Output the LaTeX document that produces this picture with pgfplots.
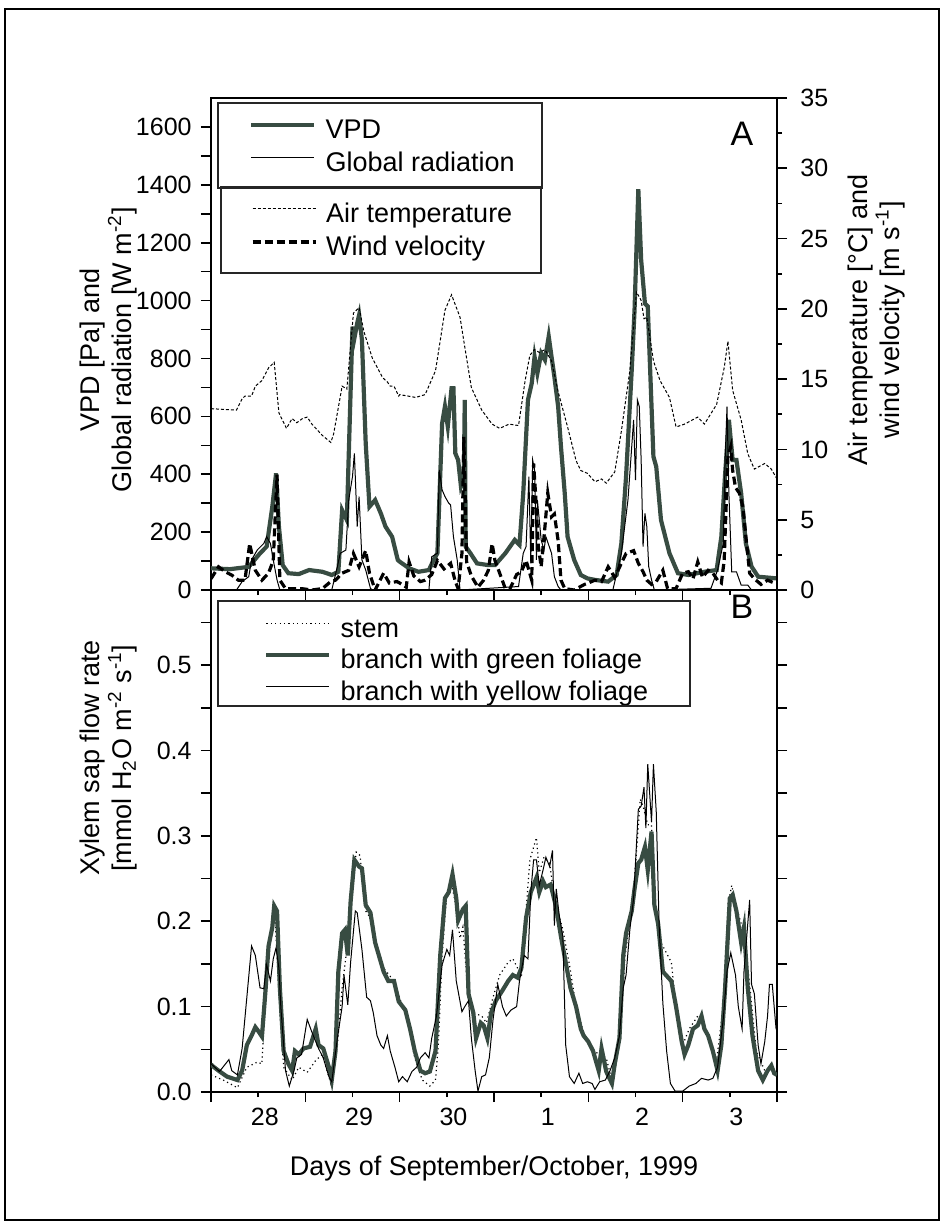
\documentclass[border=0pt]{standalone}
\usepackage{pgfplots}
\pgfplotsset{compat=1.18}
\usepackage{fontspec}
\setmainfont{Liberation Sans}
\definecolor{vpd}{RGB}{56,76,66}

\pgfplotsset{
  base/.style={
    scale only axis, width=283pt,
    xmin=0, xmax=6,
    axis line style={line width=1pt},
    every tick/.style={black, line width=0.8pt},
    tick align=outside,
    major tick length=5pt, minor tick length=2.5pt,
    /pgf/number format/assume math mode=true,
    ticklabel style={font=\fontsize{12.5}{14}\selectfont},
    label style={font=\fontsize{13.5}{16}\selectfont},
    legend style={draw=none, fill=none, inner sep=0pt, column sep=4.5pt,
      nodes={inner sep=0pt, text height=10pt, text depth=3pt},
      font=\fontsize{13.5}{16}\selectfont, anchor=north west},
    legend cell align=left,
    legend image code/.code={\draw[##1] (0pt,3.5pt) -- (31.5pt,3.5pt);},
  },
  vpdline/.style={vpd, line width=2.1pt},
  thinline/.style={black, line width=0.5pt},
  templine/.style={black, line width=0.5pt, dash pattern=on 1.5pt off 1pt},
  windline/.style={black, line width=1.6pt, dash pattern=on 4pt off 2pt},
  stemline/.style={black, line width=0.6pt, dash pattern=on 0.6pt off 1.6pt},
}

\begin{document}
\begin{tikzpicture}
\path[use as bounding box] (0pt,0pt) rectangle (472pt,-613.5pt);
\draw[line width=1.2pt] (2.5pt,-4.5pt) rectangle (469.5pt,-610pt);

% ---------------- Panel A, left axis ----------------
\begin{axis}[base, at={(105.5pt,-295pt)}, anchor=south west, height=246pt,
  ymin=0, ymax=1700,
  xtick={0,1,...,6}, minor xtick={0.5,1.5,...,5.5}, xticklabels={},
  xtick pos=bottom, ytick pos=left,
  ytick={0,100,...,1600},
  yticklabels={0,,200,,400,,600,,800,,1000,,1200,,1400,,1600},
  yticklabel style={inner sep=1.5pt, xshift=-3pt},
  ylabel={VPD [Pa] and\\Global radiation [W m\textsuperscript{-2}]},
  ylabel style={align=center, at={(axis description cs:-0.181,0.488)}, anchor=center},
  legend style={at={(axis description cs:0.0671,0.9583)}, row sep=3.5pt},
]
\addplot[vpdline] coordinates {
(0.0,75)(0.2,72)(0.4,80)(0.52,127)(0.59,150)(0.65,288)(0.69,403)(0.72,219)(0.76,86)
(0.82,58)(0.93,55)(1.04,69)(1.18,63)(1.28,52)(1.35,63)(1.39,276)(1.44,242)(1.50,910)
(1.52,870)(1.55,922)(1.57,950)(1.60,864)(1.64,507)(1.68,288)(1.74,311)(1.80,265)
(1.85,219)(1.92,184)(1.98,104)(2.0,98)(2.1,75)(2.2,63)(2.31,69)(2.36,104)(2.40,127)
(2.45,576)(2.48,634)(2.51,565)(2.55,697)(2.57,697)(2.59,472)(2.62,449)(2.65,357)
(2.68,380)(2.69,657)(2.70,150)(2.75,127)(2.82,92)(2.94,86)(3.01,86)(3.12,127)(3.22,173)
(3.27,156)(3.31,334)(3.36,657)(3.40,714)(3.43,806)(3.46,749)(3.50,818)(3.54,795)
(3.58,876)(3.61,806)(3.64,737)(3.68,634)(3.71,495)(3.75,334)(3.78,184)(3.85,104)
(3.92,52)(3.99,40)(4.07,35)(4.21,29)(4.30,52)(4.35,161)(4.40,392)(4.46,760)(4.49,968)
(4.53,1385)(4.56,1140)(4.60,990)(4.63,980)(4.69,461)(4.72,426)(4.77,242)(4.86,127)
(4.95,58)(5.06,52)(5.23,63)(5.36,69)(5.41,184)(5.45,400)(5.49,588)(5.53,449)(5.57,449)
(5.62,334)(5.67,161)(5.73,81)(5.80,46)(6.0,40)};
\addlegendentry{VPD}
\addplot[thinline] coordinates {
(0,0)(0.27,0)(0.33,29)(0.40,46)(0.43,104)(0.49,138)(0.56,161)(0.59,184)(0.63,161)
(0.66,104)(0.70,35)(0.73,0)(1.28,0)(1.34,81)(1.37,127)(1.43,138)(1.46,311)(1.50,392)
(1.52,472)(1.55,219)(1.57,323)(1.60,104)(1.64,69)(1.69,6)(1.71,0)(2.31,0)(2.34,115)
(2.40,127)(2.42,415)(2.45,346)(2.48,323)(2.52,300)(2.54,294)(2.57,184)(2.61,104)
(2.64,0)(3.26,12)(3.31,127)(3.34,150)(3.37,392)(3.39,92)(3.41,449)(3.43,415)(3.45,104)
(3.46,311)(3.50,173)(3.53,138)(3.55,184)(3.61,127)(3.64,46)(3.68,12)(3.71,0)(4.26,0)
(4.35,127)(4.42,311)(4.46,495)(4.48,588)(4.50,380)(4.52,657)(4.54,634)(4.56,449)
(4.58,150)(4.60,265)(4.62,219)(4.64,81)(4.67,35)(4.70,0)(5.30,6)(5.37,69)(5.43,161)
(5.45,449)(5.47,634)(5.49,334)(5.52,63)(5.57,63)(5.62,17)(5.69,17)(5.73,0)(6.0,0)};
\addlegendentry{Global radiation}
\end{axis}

% ---------------- Panel A, right axis ----------------
\begin{axis}[base, at={(105.5pt,-295pt)}, anchor=south west, height=246pt,
  ymin=0, ymax=35,
  axis x line=none, axis y line*=right,
  ytick={0,5,...,35}, minor ytick={2.5,7.5,...,32.5},
  yticklabel style={inner sep=1.5pt, xshift=5pt},
  ylabel={Air temperature [\textdegree C] and\\wind velocity [m s\textsuperscript{-1}]},
  ylabel style={align=center, at={(axis description cs:1.175,0.549)}, anchor=center},
  legend style={at={(axis description cs:0.0700,0.7876)}, row sep=3.5pt},
]
\addplot[templine] coordinates {
(0,12.9)(0.27,12.8)(0.33,13.6)(0.36,13.8)(0.43,13.8)(0.47,14.5)(0.54,14.9)(0.61,15.8)
(0.67,16.2)(0.72,12.6)(0.80,11.5)(0.86,12.2)(0.91,11.9)(0.97,12.2)(1.02,12.3)(1.07,11.8)
(1.18,11.0)(1.27,10.5)(1.30,11.1)(1.39,14.5)(1.44,14.3)(1.51,19.7)(1.57,20.1)(1.62,18.4)
(1.71,16.5)(1.82,15.1)(1.87,14.8)(1.90,14.5)(1.94,14.5)(1.99,13.8)(2.0,13.9)(2.17,13.7)
(2.27,13.9)(2.38,15.6)(2.48,19.9)(2.55,21.0)(2.64,19.4)(2.69,17.3)(2.76,14.4)(2.87,12.8)
(2.98,11.8)(3.06,11.5)(3.16,11.8)(3.26,11.7)(3.33,14.9)(3.38,16.7)(3.43,17.1)(3.48,16.9)
(3.54,17.1)(3.61,16.3)(3.68,14.1)(3.78,11.6)(3.87,9.2)(3.92,8.5)(3.99,8.3)(4.07,7.7)
(4.14,7.9)(4.19,7.6)(4.28,8.4)(4.35,11.3)(4.44,15.6)(4.51,21.2)(4.56,20.6)(4.59,19.3)
(4.62,19.4)(4.69,16.3)(4.76,14.9)(4.86,13.7)(4.93,11.6)(5.02,11.8)(5.16,12.3)(5.23,11.8)
(5.36,13.2)(5.44,15.8)(5.48,17.7)(5.53,14.2)(5.62,12.1)(5.69,9.7)(5.76,8.6)(5.87,9.0)
(5.94,8.6)(6.0,7.9)};
\addlegendentry{Air temperature}
\addplot[windline] coordinates {
(0.0,0.8)(0.08,1.65)(0.15,1.3)(0.22,1.06)(0.29,0.7)(0.36,0.7)(0.41,3.3)(0.47,1.4)
(0.54,0.7)(0.61,1.2)(0.66,2.1)(0.70,8.2)(0.73,0.7)(0.79,0.1)(0.86,0.1)(0.96,0.1)(1.07,0)
(1.18,0.1)(1.27,0.6)(1.32,0.7)(1.39,1.2)(1.46,1.4)(1.51,2.6)(1.57,1.65)(1.64,2.8)
(1.68,1.2)(1.74,0)(1.83,1.2)(1.89,0.5)(1.97,0.6)(2.0,0.5)(2.07,0.2)(2.1,2.0)(2.15,1.0)
(2.22,0.6)(2.27,0.7)(2.34,1.1)(2.40,2.1)(2.47,1.5)(2.54,1.9)(2.59,0.6)(2.62,0.1)
(2.66,2.6)(2.68,10.9)(2.71,2.0)(2.76,1.0)(2.83,0.2)(2.89,0.7)(2.94,1.4)(2.98,3.3)
(3.01,2.1)(3.06,1.2)(3.12,0.1)(3.17,0.1)(3.24,1.1)(3.29,1.3)(3.34,2.1)(3.40,0.7)(3.42,9.0)
(3.44,6.9)(3.47,3.1)(3.50,1.65)(3.54,4.5)(3.57,6.9)(3.61,5.2)(3.64,5.4)(3.68,3.5)
(3.71,0.7)(3.75,0.1)(3.85,0)(3.96,0.4)(4.0,0.5)(4.07,0.7)(4.14,0.6)(4.21,1.65)(4.28,0.9)
(4.35,1.9)(4.40,2.6)(4.48,2.8)(4.53,1.9)(4.58,1.3)(4.62,0.7)(4.67,0.4)(4.72,0.6)
(4.79,1.4)(4.84,0.1)(4.93,0.1)(5.0,1.2)(5.06,1.3)(5.11,0.8)(5.16,2.0)(5.21,0.9)(5.27,1.4)
(5.32,1.2)(5.37,0.7)(5.41,0.5)(5.44,2.1)(5.48,9.5)(5.51,10.2)(5.53,8.5)(5.56,7.3)
(5.60,6.9)(5.64,5.9)(5.67,3.8)(5.71,1.2)(5.76,0.8)(5.83,0.4)(5.90,0.7)(5.97,0.5)};
\addlegendentry{Wind velocity}
\end{axis}

% ---------------- Panel B ----------------
\begin{axis}[base, at={(105.5pt,-295pt)}, anchor=north west, height=251pt,
  ymin=0, ymax=0.588,
  xtick={0,1,...,6}, minor xtick={0.5,1.5,...,5.5}, xticklabels={},
  xtick pos=bottom, ytick pos=both, yticklabel pos=left,
  extra x ticks={0.57,1.57,2.57,3.57,4.57,5.57},
  extra x tick labels={28,29,30,1,2,3},
  extra x tick style={major tick length=0pt, xticklabel style={yshift=-4.5pt}},
  ytick={0,0.05,...,0.55},
  yticklabels={0.0,,0.1,,0.2,,0.3,,0.4,,0.5,},
  yticklabel style={inner sep=1.5pt, xshift=-3pt},
  xlabel={Days of September/October, 1999},
  xlabel style={at={(axis description cs:0.5,-0.153)}, anchor=center},
  ylabel={Xylem sap flow rate\\{}[mmol H\textsubscript{2}O m\textsuperscript{-2} s\textsuperscript{-1}]},
  ylabel style={align=center, at={(axis description cs:-0.181,0.665)}, anchor=center},
  legend style={at={(axis description cs:0.0936,0.9468)}, row sep=2.9pt},
]
\addplot[stemline] coordinates {
(0.0,0.020)(0.13,0.014)(0.28,0.005)(0.38,0.029)(0.49,0.035)(0.54,0.033)(0.59,0.145)
(0.65,0.193)(0.68,0.204)(0.72,0.115)(0.77,0.029)(0.86,0.014)(0.93,0.029)(1.02,0.023)
(1.11,0.037)(1.18,0.044)(1.27,0.010)(1.34,0.055)(1.39,0.122)(1.44,0.167)(1.49,0.234)
(1.54,0.281)(1.58,0.277)(1.64,0.212)(1.69,0.204)(1.74,0.180)(1.83,0.145)(1.94,0.130)
(2.0,0.110)(2.08,0.085)(2.16,0.040)(2.24,0.014)(2.32,0.007)(2.38,0.014)(2.41,0.055)
(2.45,0.160)(2.50,0.234)(2.55,0.244)(2.60,0.216)(2.64,0.180)(2.67,0.193)(2.73,0.107)
(2.78,0.093)(2.87,0.089)(2.92,0.081)(2.99,0.111)(3.06,0.137)(3.15,0.152)(3.20,0.156)
(3.25,0.145)(3.29,0.134)(3.34,0.212)(3.38,0.272)(3.45,0.298)(3.48,0.257)(3.53,0.275)
(3.59,0.268)(3.64,0.227)(3.73,0.190)(3.80,0.149)(3.87,0.100)(3.95,0.070)(4.0,0.055)
(4.05,0.050)(4.11,0.044)(4.19,0.040)(4.26,0.009)(4.33,0.059)(4.39,0.160)(4.44,0.201)
(4.49,0.249)(4.55,0.343)(4.58,0.335)(4.63,0.313)(4.67,0.313)(4.70,0.219)(4.77,0.175)
(4.88,0.152)(4.95,0.078)(5.00,0.055)(5.07,0.074)(5.16,0.089)(5.23,0.078)(5.36,0.037)
(5.43,0.100)(5.48,0.219)(5.52,0.242)(5.57,0.216)(5.64,0.190)(5.71,0.126)(5.78,0.048)
(5.87,0.025)(5.95,0.027)(6.0,0.025)};
\addlegendentry{stem}
\addplot[vpdline] coordinates {
(0.0,0.033)(0.01,0.031)(0.08,0.025)(0.17,0.018)(0.28,0.014)(0.33,0.025)(0.38,0.055)
(0.43,0.066)(0.47,0.076)(0.51,0.070)(0.54,0.065)(0.58,0.122)(0.61,0.171)(0.65,0.193)
(0.67,0.218)(0.70,0.212)(0.73,0.122)(0.77,0.048)(0.82,0.033)(0.86,0.025)(0.89,0.048)
(0.93,0.044)(0.98,0.051)(1.05,0.053)(1.11,0.074)(1.14,0.055)(1.19,0.051)(1.25,0.029)
(1.28,0.014)(1.32,0.048)(1.35,0.141)(1.39,0.186)(1.42,0.190)(1.45,0.160)(1.48,0.223)
(1.52,0.272)(1.57,0.264)(1.60,0.262)(1.64,0.219)(1.69,0.210)(1.74,0.175)(1.83,0.141)
(1.88,0.130)(1.94,0.130)(1.99,0.106)(2.06,0.096)(2.11,0.074)(2.16,0.048)(2.22,0.025)
(2.27,0.022)(2.32,0.024)(2.38,0.048)(2.43,0.160)(2.48,0.227)(2.52,0.234)(2.56,0.255)
(2.60,0.227)(2.62,0.201)(2.67,0.214)(2.70,0.218)(2.73,0.115)(2.78,0.093)(2.81,0.063)
(2.86,0.081)(2.89,0.078)(2.93,0.063)(2.97,0.093)(3.02,0.107)(3.09,0.119)(3.15,0.130)
(3.20,0.137)(3.25,0.134)(3.29,0.145)(3.34,0.204)(3.39,0.234)(3.45,0.251)(3.48,0.234)
(3.52,0.247)(3.55,0.240)(3.60,0.243)(3.66,0.216)(3.71,0.182)(3.76,0.152)(3.81,0.122)
(3.87,0.100)(3.92,0.074)(3.95,0.066)(4.00,0.059)(4.05,0.048)(4.11,0.025)(4.14,0.051)
(4.19,0.024)(4.25,0.010)(4.28,0.033)(4.33,0.063)(4.37,0.160)(4.40,0.186)(4.46,0.212)
(4.49,0.238)(4.53,0.268)(4.56,0.272)(4.60,0.287)(4.63,0.260)(4.67,0.305)(4.70,0.219)
(4.74,0.197)(4.79,0.141)(4.88,0.130)(4.93,0.100)(4.99,0.059)(5.02,0.044)(5.06,0.055)
(5.11,0.074)(5.16,0.078)(5.20,0.089)(5.23,0.074)(5.27,0.066)(5.32,0.048)(5.37,0.025)
(5.41,0.055)(5.45,0.122)(5.50,0.227)(5.53,0.231)(5.57,0.212)(5.62,0.175)(5.65,0.193)
(5.69,0.122)(5.74,0.066)(5.80,0.025)(5.85,0.014)(5.90,0.025)(5.94,0.031)(5.97,0.022)
(6.00,0.020)};
\addlegendentry{branch with green foliage}
\addplot[thinline] coordinates {
(0.0,0.033)(0.09,0.024)(0.19,0.038)(0.22,0.025)(0.28,0.020)(0.33,0.051)(0.38,0.111)
(0.43,0.171)(0.47,0.160)(0.52,0.122)(0.56,0.121)(0.59,0.149)(0.63,0.130)(0.66,0.156)
(0.69,0.169)(0.72,0.145)(0.74,0.100)(0.79,0.025)(0.83,0.007)(0.88,0.025)(0.91,0.040)
(0.96,0.044)(1.02,0.085)(1.07,0.070)(1.14,0.051)(1.19,0.040)(1.25,0.018)(1.28,0.012)
(1.34,0.063)(1.39,0.100)(1.41,0.137)(1.45,0.102)(1.48,0.152)(1.53,0.212)(1.55,0.210)
(1.60,0.167)(1.65,0.111)(1.69,0.107)(1.72,0.093)(1.76,0.066)(1.80,0.055)(1.83,0.051)
(1.87,0.066)(1.90,0.048)(1.95,0.029)(1.99,0.012)(2.03,0.018)(2.08,0.012)(2.13,0.024)
(2.18,0.029)(2.22,0.040)(2.27,0.046)(2.31,0.040)(2.34,0.063)(2.39,0.089)(2.45,0.149)
(2.50,0.167)(2.53,0.160)(2.56,0.190)(2.60,0.130)(2.66,0.094)(2.69,0.100)(2.73,0.107)
(2.76,0.063)(2.80,0.025)(2.83,0.001)(2.87,0.018)(2.91,0.020)(2.95,0.040)(2.99,0.085)
(3.04,0.126)(3.09,0.100)(3.13,0.089)(3.18,0.096)(3.24,0.100)(3.27,0.130)(3.32,0.160)
(3.36,0.156)(3.39,0.234)(3.42,0.272)(3.45,0.272)(3.48,0.242)(3.52,0.260)(3.55,0.275)
(3.59,0.264)(3.62,0.283)(3.64,0.195)(3.66,0.238)(3.69,0.208)(3.73,0.182)(3.76,0.055)
(3.80,0.018)(3.85,0.010)(3.90,0.022)(3.94,0.010)(3.99,0.012)(4.04,0.010)(4.07,0.003)
(4.12,0.012)(4.18,0.014)(4.23,0.025)(4.28,0.040)(4.33,0.066)(4.37,0.122)(4.40,0.137)
(4.44,0.190)(4.48,0.227)(4.53,0.331)(4.56,0.335)(4.59,0.357)(4.61,0.309)(4.63,0.384)
(4.67,0.316)(4.69,0.384)(4.72,0.328)(4.75,0.197)(4.79,0.104)(4.83,0.048)(4.87,0.010)
(4.92,0.001)(5.00,0.001)(5.07,0.007)(5.14,0.010)(5.20,0.016)(5.27,0.014)(5.32,0.016)
(5.37,0.029)(5.43,0.085)(5.47,0.141)(5.51,0.163)(5.56,0.137)(5.59,0.100)(5.63,0.074)
(5.65,0.141)(5.71,0.225)(5.73,0.126)(5.76,0.115)(5.80,0.055)(5.83,0.033)(5.87,0.059)
(5.90,0.089)(5.92,0.126)(5.95,0.126)(5.99,0.074)(6.0,0.074)};
\addlegendentry{branch with yellow foliage}
\end{axis}

% legend frames and panel letters
\draw[line width=0.6pt, black!85] (109pt,-51.5pt) rectangle (271pt,-94pt);
\draw[line width=0.6pt, black!85] (110.5pt,-93.5pt) rectangle (270.5pt,-136.5pt);
\draw[line width=0.6pt, black!85] (109pt,-300.5pt) rectangle (345pt,-353pt);
\node[font=\fontsize{17}{17}\selectfont] at (371pt,-67pt) {A};
\node[font=\fontsize{17}{17}\selectfont] at (371pt,-303.5pt) {B};
\end{tikzpicture}
\end{document}
